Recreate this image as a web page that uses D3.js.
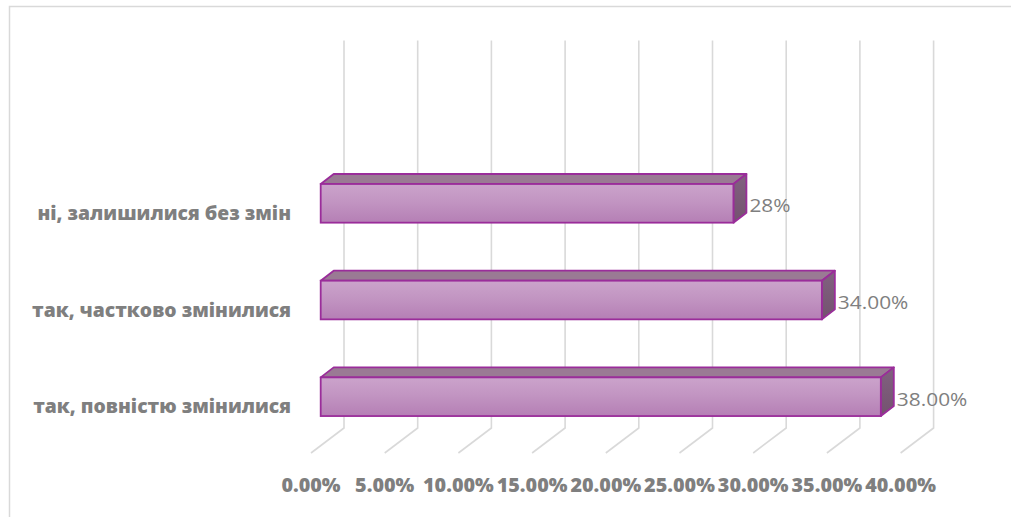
<!DOCTYPE html>
<html>
<head>
<meta charset="utf-8">
<script src="https://cdn.jsdelivr.net/npm/d3@7"></script>
<style>
  html, body { margin: 0; padding: 0; background: #ffffff; }
  svg { display: block; }
</style>
</head>
<body>
<svg id="chart" width="1011" height="517"></svg>
<script>
// ---- data ----
const categories = ["ні, залишилися без змін", "так, частково змінилися", "так, повністю змінилися"];
const values = [0.28, 0.34, 0.38];
const valueLabels = ["28%", "34.00%", "38.00%"];
const tickValues = [0, 0.05, 0.10, 0.15, 0.20, 0.25, 0.30, 0.35, 0.40];
const tickLabels = ["0.00%", "5.00%", "10.00%", "15.00%", "20.00%", "25.00%", "30.00%", "35.00%", "40.00%"];

// ---- layout ----
const W = 1011, H = 517;
const svg = d3.select("#chart");

// front plane of the bars
const x = d3.scaleLinear().domain([0, 0.4]).range([320.7, 910.3]);
const y = d3.scaleBand().domain(categories).range([135.65, 464.4]).paddingInner(0.6).paddingOuter(0.5);
const bw = y.bandwidth();

// 3D offsets
const barDX = 13, barDY = -10;          // bar depth
const backDX = 23.3;                    // back wall relative to bar front (x)
const floorFrontDX = -9.7;              // floor front relative to bar front (x)
const wallTop = 40.5, wallBottom = 428, floorFront = 453;

const grid = "#d9d9d9";
const textGray = "#7f7f7f";

// chart border
svg.append("path")
  .attr("d", `M9.5,${H} L9.5,6.5 L${W},6.5`)
  .attr("fill", "none").attr("stroke", grid).attr("stroke-width", 1.5);

// back wall grid lines + floor lines
const gGrid = svg.append("g").attr("stroke", grid).attr("stroke-width", 1.6).attr("fill", "none");
tickValues.forEach(v => {
  const xb = x(v) + backDX;
  const xf = x(v) + floorFrontDX;
  gGrid.append("path").attr("d", `M${xb},${wallTop} L${xb},${wallBottom} L${xf},${floorFront}`);
});

// gradient for bar fronts
const defs = svg.append("defs");
const grad = defs.append("linearGradient").attr("id", "frontGrad")
  .attr("x1", 0).attr("y1", 0).attr("x2", 0).attr("y2", 1);
grad.append("stop").attr("offset", "0%").attr("stop-color", "#cba3cb");
grad.append("stop").attr("offset", "45%").attr("stop-color", "#c295c2");
grad.append("stop").attr("offset", "100%").attr("stop-color", "#b57fb5");
const sideGrad = defs.append("linearGradient").attr("id", "sideGrad")
  .attr("x1", 0).attr("y1", 0).attr("x2", 0).attr("y2", 1);
sideGrad.append("stop").attr("offset", "0%").attr("stop-color", "#816180");
sideGrad.append("stop").attr("offset", "100%").attr("stop-color", "#74526f");

const stroke = "#9a2d9a";
const bars = svg.append("g").selectAll("g").data(categories).join("g");

bars.each(function(c, i) {
  const g = d3.select(this);
  const x0 = x(0), x1 = x(values[i]);
  const y0 = y(c), y1 = y0 + bw;
  // top face
  g.append("path")
    .attr("d", `M${x0},${y0} L${x0 + barDX},${y0 + barDY} L${x1 + barDX},${y0 + barDY} L${x1},${y0} Z`)
    .attr("fill", "#9a7a94").attr("stroke", stroke).attr("stroke-width", 1.8).attr("stroke-linejoin", "round");
  // side face
  g.append("path")
    .attr("d", `M${x1},${y0} L${x1 + barDX},${y0 + barDY} L${x1 + barDX},${y1 + barDY} L${x1},${y1} Z`)
    .attr("fill", "url(#sideGrad)").attr("stroke", stroke).attr("stroke-width", 1.8).attr("stroke-linejoin", "round");
  // front face
  g.append("rect")
    .attr("x", x0).attr("y", y0).attr("width", x1 - x0).attr("height", bw)
    .attr("fill", "url(#frontGrad)").attr("stroke", stroke).attr("stroke-width", 1.8);
  // value label
  g.append("text")
    .attr("transform", `translate(${x1 + barDX + 3},${y0 + bw / 2 + 9}) scale(1.13,1)`)
    .attr("font-family", "'Open Sans', 'Noto Sans', sans-serif")
    .attr("font-size", 18.5).attr("fill", textGray)
    .text(valueLabels[i]);
  // category label
  g.append("text")
    .attr("transform", `translate(291,${y0 + bw / 2 + 16.7}) scale(1.045,1)`)
    .attr("text-anchor", "end")
    .attr("font-family", "'Open Sans', 'Noto Sans', sans-serif")
    .attr("font-weight", 800)
    .attr("font-size", 18.5).attr("fill", textGray)
    .text(c);
});

// tick labels
svg.append("g").selectAll("text").data(tickValues).join("text")
  .attr("transform", v => `translate(${x(v) + floorFrontDX},492) scale(1.07,1)`)
  .attr("text-anchor", "middle")
  .attr("font-family", "'Open Sans', 'Noto Sans', sans-serif")
  .attr("font-weight", 800)
  .attr("font-size", 18.5).attr("fill", textGray)
  .text((v, i) => tickLabels[i]);
</script>
</body>
</html>
